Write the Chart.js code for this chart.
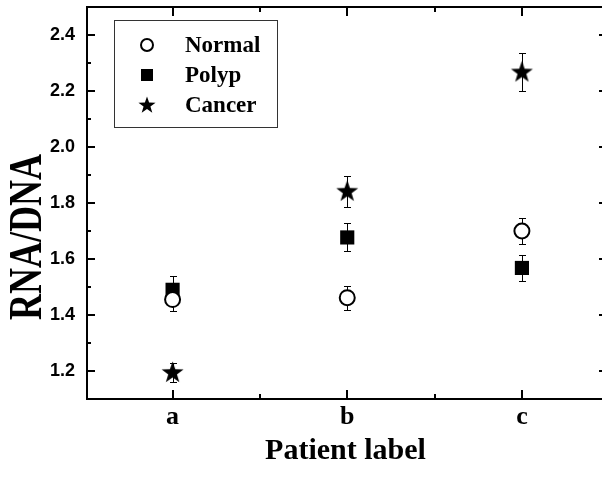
<!DOCTYPE html>
<html>
<head>
<meta charset="utf-8">
<script src="https://cdn.jsdelivr.net/npm/chart.js@4.4.0/dist/chart.umd.min.js"></script>
<style>
html, body { margin: 0; padding: 0; overflow: hidden; background: #fff; }
canvas { display: block; }
</style>
</head>
<body>
<canvas id="myChart" width="606" height="481"></canvas>
<script>
// data
var patients = ['a', 'b', 'c'];
var yTicks = [1.2, 1.4, 1.6, 1.8, 2.0, 2.2, 2.4];
var yMinor = [1.3, 1.5, 1.7, 1.9, 2.1, 2.3];
var xMinor = [0.5, 1.5];
var seriesNames = ['Normal', 'Polyp', 'Cancer'];
var normal = [1.455, 1.462, 1.700];
var normalErr = [0.040, 0.043, 0.048];
var polyp = [1.490, 1.677, 1.568];
var polypErr = [0.048, 0.050, 0.047];
var cancer = [1.195, 1.842, 2.268];
var cancerErr = [0.035, 0.055, 0.068];

var serif = '"Liberation Serif", "Times New Roman", serif';
var sans = '"Liberation Sans", Arial, sans-serif';

function makeStar(outer, inner) {
    var c = document.createElement('canvas');
    var s = Math.ceil(outer * 2 + 2);
    c.width = s; c.height = s;
    var g = c.getContext('2d');
    g.beginPath();
    for (var i = 0; i < 10; i++) {
        var r = i % 2 == 0 ? outer : inner;
        var a = -Math.PI / 2 + i * Math.PI / 5;
        var px = s / 2 + r * Math.cos(a), py = s / 2 + 0.5 + r * Math.sin(a);
        if (i == 0) g.moveTo(px, py); else g.lineTo(px, py);
    }
    g.closePath();
    g.fillStyle = '#000';
    g.fill();
    return c;
}
var bigStar = makeStar(11.5, 4.6);
var smallStar = makeStar(9, 3.6);

function pts(arr) {
    return arr.map(function (v, i) { return { x: i, y: v }; });
}

var errorBars = {
    id: 'errorBars',
    beforeDatasetsDraw: function (chart) {
        var ctx = chart.ctx, xs = chart.scales.x, ys = chart.scales.y;
        var sets = [[normal, normalErr], [polyp, polypErr], [cancer, cancerErr]];
        ctx.save();
        ctx.strokeStyle = '#000';
        ctx.lineWidth = 1;
        sets.forEach(function (s) {
            s[0].forEach(function (v, i) {
                var x = Math.round(xs.getPixelForValue(i)) + 0.5;
                var y1 = Math.round(ys.getPixelForValue(v + s[1][i])) + 0.5;
                var y2 = Math.round(ys.getPixelForValue(v - s[1][i])) + 0.5;
                ctx.beginPath();
                ctx.moveTo(x, y1); ctx.lineTo(x, y2);
                ctx.moveTo(x - 3.5, y1); ctx.lineTo(x + 3.5, y1);
                ctx.moveTo(x - 3.5, y2); ctx.lineTo(x + 3.5, y2);
                ctx.stroke();
            });
        });
        ctx.restore();
    }
};

var frame = {
    id: 'frame',
    afterDraw: function (chart) {
        var ctx = chart.ctx, a = chart.chartArea, xs = chart.scales.x, ys = chart.scales.y;
        ctx.save();
        ctx.strokeStyle = '#000';
        ctx.lineWidth = 2;
        ctx.strokeRect(a.left, a.top, a.right - a.left, a.bottom - a.top);
        ctx.beginPath();
        yTicks.forEach(function (v) {
            var y = Math.round(ys.getPixelForValue(v));
            ctx.moveTo(a.left, y); ctx.lineTo(a.left + 8, y);
            ctx.moveTo(a.right, y); ctx.lineTo(a.right - 5, y);
        });
        yMinor.forEach(function (v) {
            var y = Math.round(ys.getPixelForValue(v));
            ctx.moveTo(a.left, y); ctx.lineTo(a.left + 4, y);
        });
        patients.forEach(function (p, i) {
            var x = Math.round(xs.getPixelForValue(i));
            ctx.moveTo(x, a.top); ctx.lineTo(x, a.top + 9);
            ctx.moveTo(x, a.bottom); ctx.lineTo(x, a.bottom - 9);
        });
        xMinor.forEach(function (v) {
            var x = Math.round(xs.getPixelForValue(v));
            ctx.moveTo(x, a.top); ctx.lineTo(x, a.top + 5);
            ctx.moveTo(x, a.bottom); ctx.lineTo(x, a.bottom - 5);
        });
        ctx.stroke();

        // y axis title
        ctx.save();
        ctx.translate(28, 237);
        ctx.rotate(-Math.PI / 2);
        ctx.scale(1, 1.3);
        ctx.font = 'bold 36px ' + serif;
        ctx.fillStyle = '#000';
        ctx.textAlign = 'center';
        ctx.textBaseline = 'middle';
        ctx.fillText('RNA/DNA', 0, 1);
        ctx.restore();

        // legend box
        ctx.lineWidth = 1;
        ctx.strokeStyle = '#333';
        ctx.strokeRect(114.5, 20.5, 163, 107);
        var rows = [45, 75, 105];
        ctx.fillStyle = '#000';
        ctx.strokeStyle = '#000';
        ctx.lineWidth = 2;
        ctx.beginPath();
        ctx.arc(147, rows[0], 6, 0, Math.PI * 2);
        ctx.stroke();
        ctx.fillRect(141, rows[1] - 6, 12, 12);
        ctx.drawImage(smallStar, 147 - smallStar.width / 2, rows[2] - smallStar.height / 2);
        ctx.font = 'bold 23px ' + serif;
        ctx.textAlign = 'left';
        ctx.textBaseline = 'middle';
        seriesNames.forEach(function (n, i) {
            ctx.fillText(n, 185, rows[i] + 1);
        });
        ctx.restore();
    }
};

var ctx = document.getElementById('myChart').getContext('2d');
var myChart = new Chart(ctx, {
    type: 'scatter',
    data: {
        datasets: [{
            label: seriesNames[0],
            data: pts(normal),
            pointStyle: 'circle',
            pointRadius: 7.5,
            pointBorderWidth: 2,
            pointBackgroundColor: '#fff',
            pointBorderColor: '#000'
        }, {
            label: seriesNames[1],
            data: pts(polyp),
            pointStyle: 'rect',
            pointRadius: 10,
            pointBorderWidth: 0,
            pointBackgroundColor: '#000',
            pointBorderColor: '#000'
        }, {
            label: seriesNames[2],
            data: pts(cancer),
            pointStyle: bigStar,
            pointRadius: 11
        }]
    },
    options: {
        responsive: false,
        animation: false,
        events: [],
        layout: { autoPadding: false, padding: { top: 7, right: 2, left: 0, bottom: 0 } },
        plugins: { legend: { display: false }, tooltip: { enabled: false } },
        scales: {
            x: {
                type: 'linear',
                min: -0.49,
                max: 2.47,
                grid: { display: false, drawTicks: false },
                border: { display: false },
                afterBuildTicks: function (s) {
                    s.ticks = patients.map(function (p, i) { return { value: i }; });
                },
                afterFit: function (s) {
                    s.height = 82;
                    s.paddingLeft = 0;
                    s.paddingRight = 0;
                },
                ticks: {
                    color: '#000',
                    padding: 3,
                    font: { family: serif, size: 26, weight: 'bold' },
                    callback: function (v) { return patients[v]; }
                },
                title: {
                    display: true,
                    text: 'Patient label',
                    color: '#000',
                    font: { family: serif, size: 30, weight: 'bold' },
                    padding: { top: 0, bottom: 12 }
                }
            },
            y: {
                min: 1.1,
                max: 2.5,
                grid: { display: false, drawTicks: false },
                border: { display: false },
                afterBuildTicks: function (s) {
                    s.ticks = yTicks.map(function (v) { return { value: v }; });
                },
                afterFit: function (s) {
                    s.width = 87;
                    s.paddingTop = 0;
                    s.paddingBottom = 0;
                },
                ticks: {
                    color: '#000',
                    padding: 12,
                    font: { family: sans, size: 18, weight: 'bold' },
                    callback: function (v) { return v.toFixed(1); }
                }
            }
        }
    },
    plugins: [errorBars, frame]
});
</script>
</body>
</html>
